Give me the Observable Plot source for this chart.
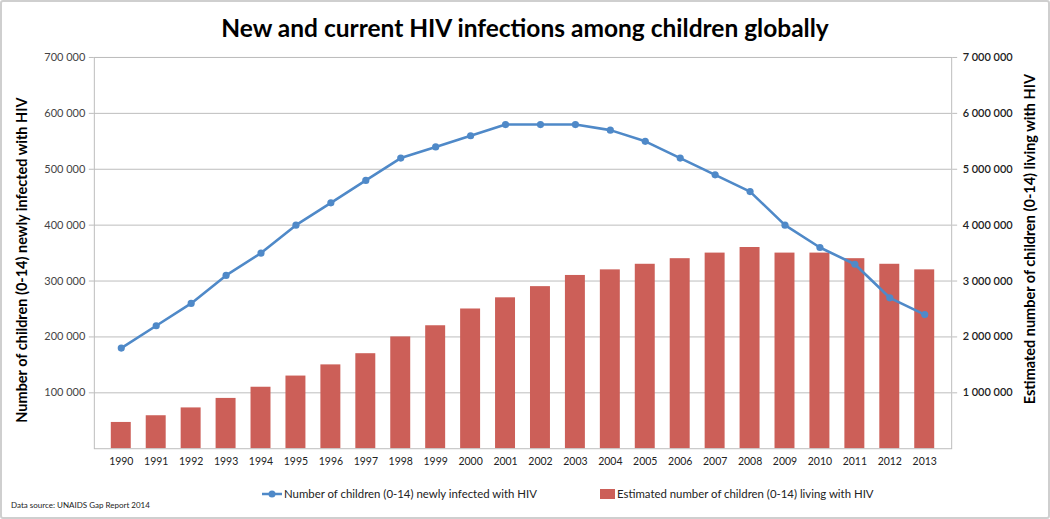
<!DOCTYPE html>
<html>
<head>
<meta charset="utf-8">
<script src="https://cdn.jsdelivr.net/npm/d3@7"></script>
<script src="https://cdn.jsdelivr.net/npm/@observablehq/plot@0.6"></script>
<style>
  html, body { margin: 0; padding: 0; background: #fff; }
  #wrap { position: relative; width: 1050px; height: 519px; box-sizing: border-box; border: 2px solid #cfcfcf; border-radius: 3px; font-family: Lato, "Open Sans", sans-serif; overflow: hidden; }
  #title { position: absolute; left: 0; top: 11px; width: 100%; text-align: center; font-weight: 700; font-size: 24.5px; color: #000; }
  #chart { position: absolute; left: -2px; top: 43px; }
  #legend { position: absolute; top: 485px; left: 0; width: 100%; font-size: 11.4px; color: #222; }
  .li { position: absolute; display: flex; align-items: center; white-space: nowrap; }
  #source { position: absolute; left: 9px; top: 498px; font-size: 8px; color: #222; }
</style>
</head>
<body>
<div id="wrap">
  <div id="title">New and current HIV infections among children globally</div>
  <div id="chart"></div>
  <div id="legend"></div>
  <div id="source">Data source: UNAIDS Gap Report 2014</div>
</div>
<script>
const years = ["1990","1991","1992","1993","1994","1995","1996","1997","1998","1999","2000","2001","2002","2003","2004","2005","2006","2007","2008","2009","2010","2011","2012","2013"];
const newlyInfected = [180000,220000,260000,310000,350000,400000,440000,480000,520000,540000,560000,580000,580000,580000,570000,550000,520000,490000,460000,400000,360000,330000,270000,240000];
const livingWith = [470000,590000,730000,900000,1100000,1300000,1500000,1700000,2000000,2200000,2500000,2700000,2900000,3100000,3200000,3300000,3400000,3500000,3600000,3500000,3500000,3400000,3300000,3200000];
const leftTicks = [100000,200000,300000,400000,500000,600000,700000];
const rightTicks = [1000000,2000000,3000000,4000000,5000000,6000000,7000000];
const seriesNames = ["Number of children (0-14) newly infected with HIV", "Estimated number of children (0-14) living with HIV"];
const leftLabel = "Number of children (0-14) newly infected with HIV";
const rightLabel = "Estimated number of children (0-14) living with HIV";

const lineColor = "#4f89c8";
const barColor = "#cc5f58";
const ratio = 10; // right axis / left axis

const data = years.map((y, i) => ({year: y, newly: newlyInfected[i], living: livingWith[i]}));
const fmt = d3.formatLocale({decimal: ".", thousands: " ", grouping: [3], currency: ["", ""]}).format(",");

const chart = Plot.plot({
  width: 1050,
  height: 437,
  marginTop: 12,
  marginBottom: 33,
  marginLeft: 94,
  marginRight: 97,
  style: {fontFamily: "Lato, 'Open Sans', sans-serif", background: "transparent"},
  x: {type: "band", domain: years, paddingInner: 0.42, paddingOuter: 0.21},
  y: {domain: [0, 700000]},
  marks: [
    Plot.gridY(leftTicks, {stroke: "#bdbdbd", strokeOpacity: 1}),
    Plot.barY(data, {x: "year", y: d => d.living / ratio, fill: barColor}),
    Plot.frame({stroke: "#bdbdbd"}),
    Plot.line(data, {x: "year", y: "newly", stroke: lineColor, strokeWidth: 2.6}),
    Plot.dot(data, {x: "year", y: "newly", fill: lineColor, r: 3.6}),
    Plot.axisX({tickSize: 0, tickPadding: 9, fontSize: 10.5, fill: "#222", label: null}),
    Plot.axisY(leftTicks, {anchor: "left", tickFormat: fmt, tickSize: 5, tickPadding: 4, fontSize: 11, stroke: "#bdbdbd", fill: "#444", label: null}),
    Plot.axisY(rightTicks.map(v => v / ratio), {anchor: "right", tickFormat: d => fmt(d * ratio), tickSize: 5, tickPadding: 6, fontSize: 11, fontWeight: 600, stroke: "#bdbdbd", fill: "#222", label: null}),
    Plot.text([leftLabel], {text: d => d, frameAnchor: "left", textAnchor: "middle", dx: -72, dy: 7, rotate: -90, fontSize: 14.5, fontWeight: 700, fill: "#000"}),
    Plot.text([rightLabel], {text: d => d, frameAnchor: "right", textAnchor: "middle", dx: 79, dy: -14, rotate: -90, fontSize: 14.5, fontWeight: 700, fill: "#000"})
  ]
});
document.getElementById("chart").append(chart);

const legend = document.getElementById("legend");
const l1 = document.createElement("div");
l1.className = "li";
l1.style.left = "259px";
l1.innerHTML = `<svg width="22" height="10" style="margin-right:1px"><line x1="1" y1="5" x2="21" y2="5" stroke="${lineColor}" stroke-width="2.5"/><circle cx="11" cy="5" r="3.5" fill="${lineColor}"/></svg><span>${seriesNames[0]}</span>`;
const l2 = document.createElement("div");
l2.className = "li";
l2.style.left = "598px";
l2.innerHTML = `<svg width="16" height="10" style="margin-right:1px"><rect x="0" y="0" width="15" height="10" fill="${barColor}"/></svg><span>${seriesNames[1]}</span>`;
legend.append(l1, l2);
</script>
</body>
</html>
